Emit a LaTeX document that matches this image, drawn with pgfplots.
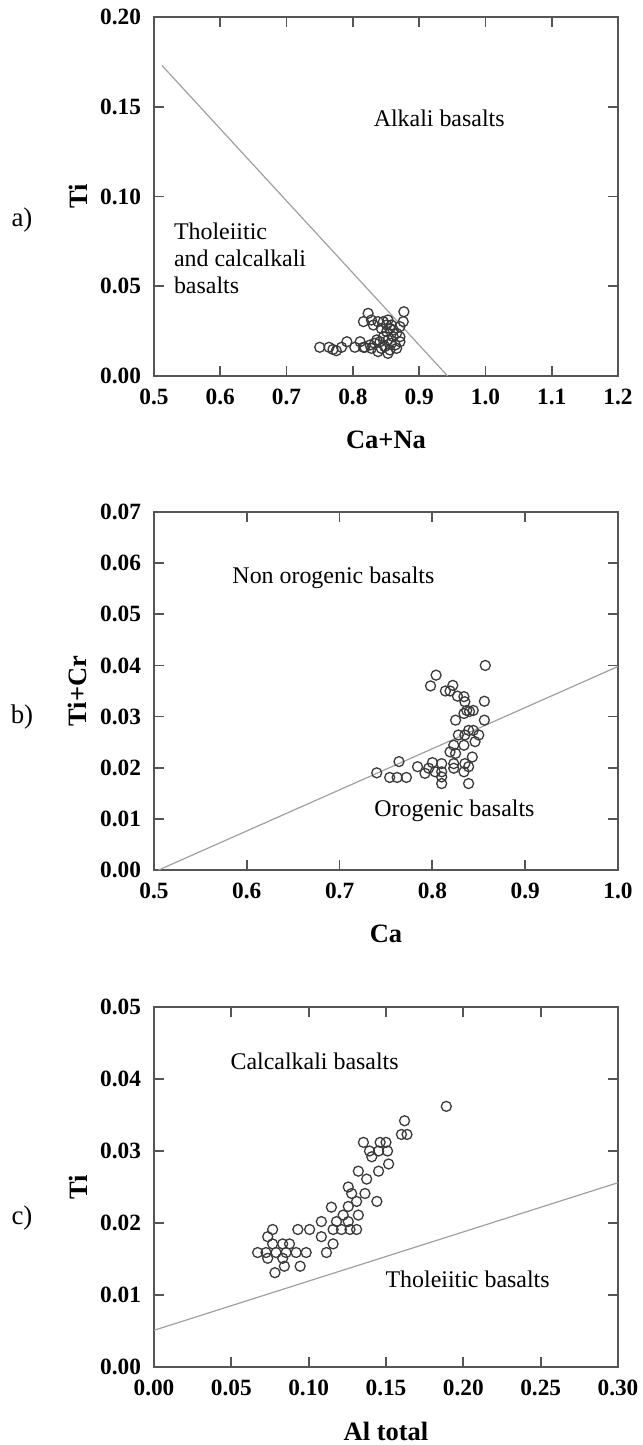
\documentclass[border=0pt]{standalone}
\usepackage{fontspec}
\setmainfont{Liberation Serif}
\usepackage{pgfplots}
\pgfplotsset{compat=1.18}

\definecolor{axisgray}{HTML}{555555}
\definecolor{markgray}{HTML}{3A3A3A}
\definecolor{linegray}{HTML}{A0A0A0}

\pgfplotsset{
  panel/.style={
    width=232bp, scale only axis, clip=false,
    scaled ticks=false,
    axis line style={axisgray, line width=0.9bp},
    tick style={axisgray, line width=0.9bp},
    major tick length=5bp,
    tick align=inside,
    /pgf/number format/assume math mode=true,
    ticklabel style={font=\fontsize{11.7}{14}\selectfont\bfseries},
    xticklabel style={yshift=-3bp},
    yticklabel style={xshift=-3bp},
    label style={font=\fontsize{13.3}{16}\selectfont\bfseries},
    xlabel style={at={(axis description cs:0.5,-0.203)}, anchor=base},
    ylabel style={at={(axis description cs:-0.164,0.5)}, anchor=center},
  },
  xprec/.style={xticklabel style={/pgf/number format/fixed,
    /pgf/number format/fixed zerofill, /pgf/number format/precision=#1}},
  yprec/.style={yticklabel style={/pgf/number format/fixed,
    /pgf/number format/fixed zerofill, /pgf/number format/precision=#1}},
  pts/.style={only marks, mark=o, mark size=2.5bp,
    mark options={draw=markgray, line width=0.65bp}},
  border/.style={linegray, line width=0.6bp, no marks},
}
\newcommand{\annot}{\fontsize{12}{14}\selectfont}
\newcommand{\plab}{\fontsize{13.5}{16}\selectfont}

\begin{document}
\begin{tikzpicture}
\useasboundingbox (0,0) rectangle (321.5bp,-722.5bp);

% (a) Ti vs Ca+Na
\begin{axis}[panel, at={(77bp,-188bp)}, anchor=south west, height=179.5bp,
  xmin=0.5, xmax=1.2, ymin=0, ymax=0.20,
  xtick={0.5,0.6,...,1.2}, ytick={0,0.05,...,0.2},
  xprec=1, yprec=2,
  xlabel={Ca+Na}, ylabel={Ti}]
\addplot[border] coordinates {(0.512,0.173) (0.943,0)};
\addplot[pts] table {
0.750 0.0160
0.764 0.0160
0.770 0.0148
0.775 0.0141
0.783 0.0160
0.791 0.0191
0.803 0.0160
0.811 0.0191
0.816 0.0160
0.823 0.0349
0.816 0.0303
0.828 0.0312
0.838 0.0303
0.853 0.0312
0.877 0.0358
0.876 0.0303
0.871 0.0275
0.818 0.0160
0.826 0.0173
0.833 0.0182
0.841 0.0191
0.846 0.0219
0.851 0.0247
0.856 0.0265
0.861 0.0256
0.866 0.0238
0.871 0.0219
0.853 0.0201
0.858 0.0182
0.864 0.0173
0.848 0.0164
0.843 0.0154
0.856 0.0145
0.853 0.0126
0.866 0.0154
0.871 0.0191
0.861 0.0219
0.851 0.0284
0.843 0.0265
0.836 0.0201
0.828 0.0154
0.838 0.0136
0.846 0.0303
0.858 0.0284
0.831 0.0284
};
\node[anchor=base west, font=\annot] at (axis cs:0.821,0.139) {Alkali basalts};
\node[anchor=base west, font=\annot] at (axis cs:0.5196,0.0758) {Tholeiitic};
\node[anchor=base west, font=\annot] at (axis cs:0.5196,0.0609) {and calcalkali};
\node[anchor=base west, font=\annot] at (axis cs:0.5196,0.0460) {basalts};
\node[font=\plab] at (axis description cs:-0.2845,0.4345) {a)};
\end{axis}

% (b) Ti+Cr vs Ca
\begin{axis}[panel, at={(77bp,-435bp)}, anchor=south west, height=179bp,
  xmin=0.5, xmax=1.0, ymin=0, ymax=0.07,
  xtick={0.5,0.6,...,1.0}, ytick={0,0.01,...,0.07},
  xprec=1, yprec=2,
  xlabel={Ca}, ylabel={Ti+Cr}]
\addplot[border] coordinates {(0.505,0) (1.0,0.0398)};
\addplot[pts] table {
0.857 0.0400
0.804 0.0381
0.798 0.0360
0.814 0.0350
0.822 0.0361
0.819 0.0350
0.827 0.0340
0.834 0.0339
0.835 0.0329
0.856 0.0330
0.837 0.0312
0.840 0.0310
0.844 0.0312
0.834 0.0306
0.856 0.0293
0.825 0.0293
0.839 0.0273
0.844 0.0273
0.835 0.0264
0.828 0.0264
0.850 0.0264
0.846 0.0251
0.823 0.0244
0.834 0.0244
0.819 0.0231
0.825 0.0228
0.843 0.0221
0.764 0.0212
0.784 0.0202
0.800 0.0210
0.810 0.0208
0.823 0.0208
0.835 0.0208
0.796 0.0199
0.792 0.0189
0.803 0.0192
0.810 0.0192
0.823 0.0199
0.834 0.0192
0.839 0.0202
0.810 0.0182
0.810 0.0169
0.839 0.0169
0.740 0.0190
0.754 0.0181
0.762 0.0181
0.772 0.0181
};
\node[anchor=base west, font=\annot] at (axis cs:0.577,0.0561) {Non orogenic basalts};
\node[anchor=base west, font=\annot] at (axis cs:0.730,0.0104) {Orogenic basalts};
\node[font=\plab] at (axis description cs:-0.2845,0.427) {b)};
\end{axis}

% (c) Ti vs Al total
\begin{axis}[panel, at={(77bp,-683.5bp)}, anchor=south west, height=180bp,
  xmin=0, xmax=0.30, ymin=0, ymax=0.05,
  xtick={0,0.05,...,0.3}, ytick={0,0.01,...,0.05},
  xprec=2, yprec=2,
  xlabel={Al total}, ylabel={Ti}]
\addplot[border] coordinates {(0,0.0051) (0.30,0.0256)};
\addplot[pts] table {
0.189 0.0362
0.162 0.0342
0.160 0.0323
0.1636 0.0323
0.1354 0.0312
0.1462 0.0312
0.150 0.0312
0.1393 0.0300
0.1452 0.0300
0.151 0.0300
0.1408 0.0292
0.1517 0.0282
0.1321 0.0272
0.1452 0.0272
0.1375 0.0261
0.1256 0.0250
0.1278 0.0241
0.1364 0.0241
0.1441 0.0230
0.131 0.0230
0.1256 0.0223
0.1147 0.0222
0.1321 0.0211
0.1223 0.0211
0.1082 0.0202
0.118 0.0202
0.1256 0.0202
0.1158 0.0191
0.1212 0.0191
0.1267 0.0191
0.131 0.0191
0.093 0.0191
0.1006 0.0191
0.0767 0.0191
0.1082 0.0181
0.0735 0.0181
0.1158 0.0171
0.0767 0.0171
0.0832 0.0171
0.0876 0.0171
0.067 0.0159
0.0724 0.0159
0.0789 0.0159
0.0854 0.0159
0.0919 0.0159
0.0984 0.0159
0.1115 0.0159
0.0735 0.0151
0.0832 0.0151
0.0843 0.0140
0.0945 0.0140
0.0782 0.0131
};
\node[anchor=base west, font=\annot] at (axis cs:0.045,0.0413) {Calcalkali basalts};
\node[anchor=base west, font=\annot] at (axis cs:0.1452,0.0111) {Tholeiitic basalts};
\node[font=\plab] at (axis description cs:-0.2845,0.414) {c)};
\end{axis}
\end{tikzpicture}
\end{document}
